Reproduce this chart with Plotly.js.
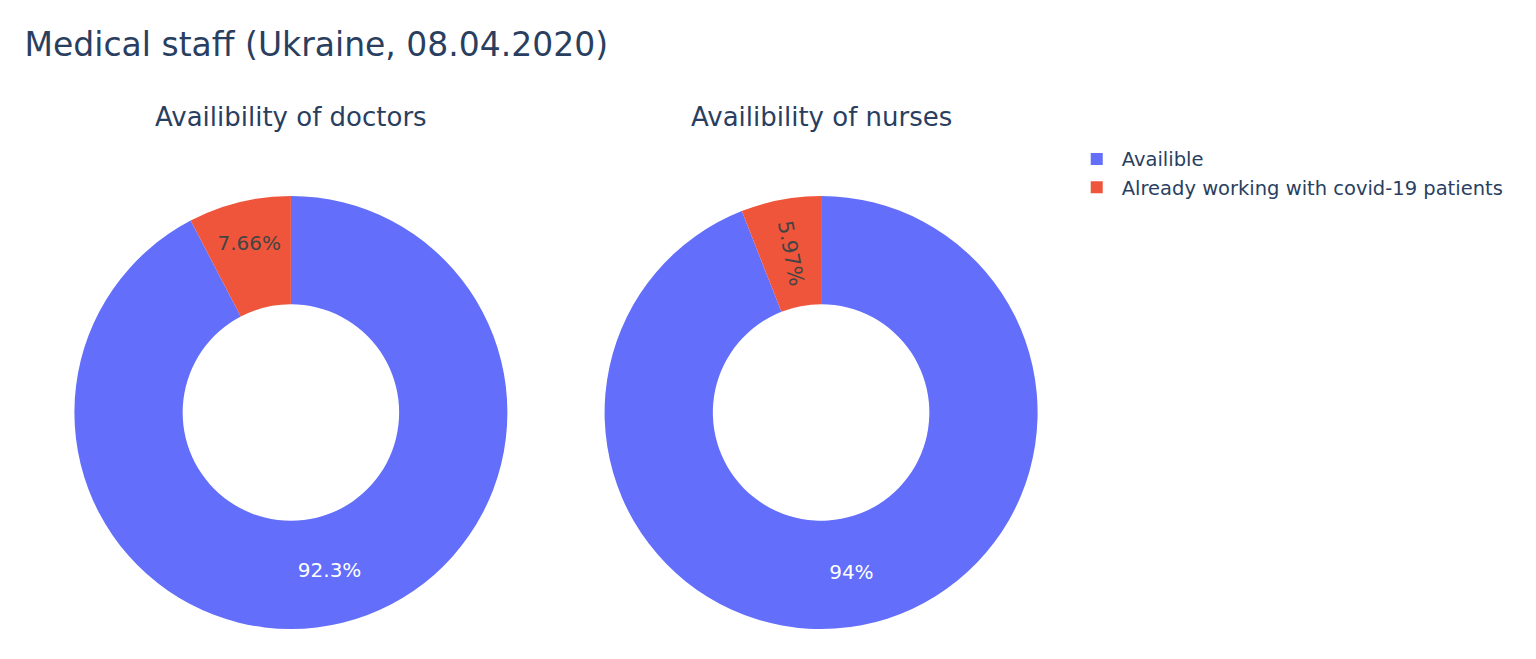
<!DOCTYPE html>
<html>
<head>
<meta charset="utf-8">
<script src="https://cdn.plot.ly/plotly-3.0.1.min.js"></script>
<style>html,body{margin:0;padding:0;background:#fff;}#chart{width:1536px;height:659px;}</style>
</head>
<body>
<div id="chart"></div>
<script>
const labels = ["Availible", "Already working with covid-19 patients"];
const doctorsValues = [92.34, 7.66];
const nursesValues = [94.03, 5.97];
const subplotTitles = ["Availibility of doctors", "Availibility of nurses"];
const colors = ["#636efa", "#EF553B"];

const FONT = "DejaVu Sans, Verdana, sans-serif";
const doms = [[0, 0.45], [0.55, 1]];
const textSizes = [[20, 20], [20, 20.8]];

const traces = [doctorsValues, nursesValues].map((vals, i) => ({
  type: "pie",
  labels: labels,
  values: vals,
  hole: 0.5,
  direction: "clockwise",
  sort: true,
  textinfo: "percent",
  textfont: {size: textSizes[i], family: FONT},
  insidetextorientation: "auto",
  marker: {colors: colors},
  domain: {x: doms[i], y: [0, 1]},
  showlegend: true
}));

const layout = {
  width: 1536,
  height: 659,
  margin: {l: 74, r: 498, t: 196, b: 30},
  paper_bgcolor: "#fff",
  font: {family: FONT, color: "#2a3f5f"},
  title: {text: "Medical staff (Ukraine, 08.04.2020)", x: 0.016, xanchor: "left", y: 0.932, yanchor: "middle", yref: "container", font: {size: 33, family: FONT, color: "#2a3f5f"}},
  legend: {x: 1.035, y: 1.13, xanchor: "left", yanchor: "top", font: {size: 19.5, family: FONT}, itemwidth: 40},
  annotations: subplotTitles.map((t, i) => ({
    text: t, x: (doms[i][0] + doms[i][1]) / 2, y: 1.182, xref: "paper", yref: "paper",
    xanchor: "center", yanchor: "middle", showarrow: false,
    font: {size: 26, family: FONT, color: "#2a3f5f"}
  }))
};

Plotly.newPlot("chart", traces, layout, {displayModeBar: false});
</script>
</body>
</html>
